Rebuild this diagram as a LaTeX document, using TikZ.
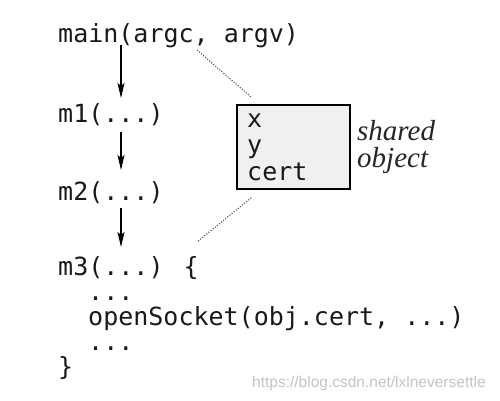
\documentclass[tikz,border=0pt]{standalone}
\usepackage{fontspec}
\usetikzlibrary{arrows.meta}
\newfontfamily\codefont{DejaVu Sans Mono}
\newfontfamily\notefont{Liberation Serif}
\newfontfamily\markfont{Liberation Sans}
\definecolor{boxfill}{HTML}{F0F0F0}
\definecolor{dotline}{HTML}{505050}
\definecolor{wmark}{HTML}{C4C4C4}
\tikzset{
  code/.style={font=\codefont\fontsize{25}{25}\selectfont, inner sep=0pt, anchor=base west, text=black!90},
  note/.style={font=\notefont\itshape\fontsize{29}{29}\selectfont, inner sep=0pt, anchor=base west, text=black!85},
  callarrow/.style={line width=1.4pt, -{Stealth[length=15pt,width=7pt,inset=3pt]}},
  tie/.style={dotline, line width=1.1pt, dash pattern=on 1.1pt off 1.6pt},
  objbox/.style={draw=black, line width=1.5pt, fill=boxfill, minimum width=113pt, minimum height=84pt, inner sep=0pt},
  wm/.style={font=\markfont\fontsize{15.5}{15.5}\selectfont, text=wmark, inner sep=0pt, anchor=base west}
}
\begin{document}
\begin{tikzpicture}[x=1pt,y=1pt]
\useasboundingbox (0,0) rectangle (500,400);
\fill[white] (0,0) rectangle (500,400);
% code column
\node[code] (main) at (58,357) {main(argc, argv)};
\node[code] (m1) at (58,278) {m1(...)};
\node[code] (m2) at (58,200) {m2(...)};
\node[code] (m3) at (58,125) {m3(...) \{};
\node[code] (d1) at (88,100) {...};
\node[code] (open) at (88,75) {openSocket(obj.cert, ...)};
\node[code] (d2) at (88,50) {...};
\node[code] (close) at (58,25) {\}};
% arrows
\draw[callarrow] ([shift={(63,-2)}]main.base west) -- ([shift={(63,24)}]m1.base west);
\draw[callarrow] ([shift={(63,-10)}]m1.base west) -- ([shift={(63,30)}]m2.base west);
\draw[callarrow] ([shift={(63,-8)}]m2.base west) -- ([shift={(63,28)}]m3.base west);
% shared object
\node[objbox] (obj) at (293.5,253) {};
\node[code] (fx) at (247,273) {x};
\node[code] (fy) at (247,247) {y};
\node[code] (fc) at (247,220) {cert};
\node[note] (sh) at (357,260) {shared};
\node[note] (ob) at (357,233) {object};
% dotted ties
\draw[tie] ([shift={(139,-7)}]main.base west) -- ([shift={(15,7)}]obj.north west);
\draw[tie] ([shift={(15,-8)}]obj.south west) -- ([shift={(139,33)}]m3.base west);
% watermark
\node[wm] (mark) at (252,13) {https://blog.csdn.net/lxlneversettle};
\end{tikzpicture}
\end{document}
